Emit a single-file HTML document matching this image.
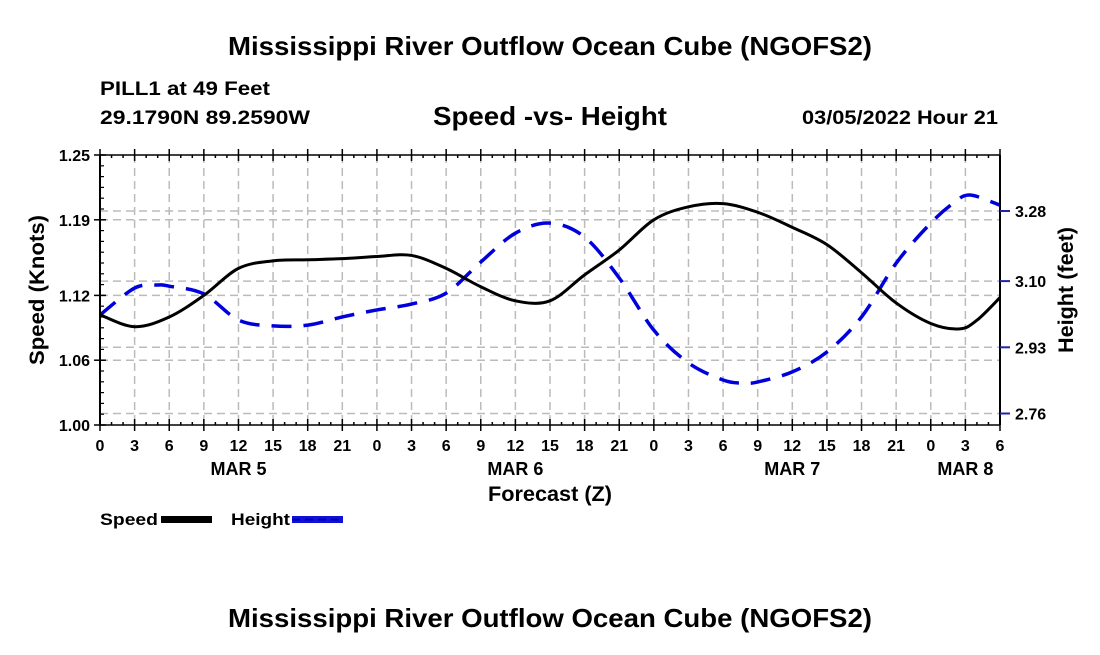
<!DOCTYPE html>
<html><head><meta charset="utf-8"><style>
html,body{margin:0;padding:0;background:#fff;}
svg text{font-family:"Liberation Sans",Arial,sans-serif;font-weight:bold;fill:#000;}
</style></head><body>
<svg id="chart" width="1100" height="650" viewBox="0 0 1100 650" xmlns="http://www.w3.org/2000/svg">
<rect width="1100" height="650" fill="#fff"/>
<text x="550" y="55" font-size="26" text-anchor="middle" textLength="644" lengthAdjust="spacingAndGlyphs">Mississippi River Outflow Ocean Cube (NGOFS2)</text>
<text x="100" y="95" font-size="19" textLength="170" lengthAdjust="spacingAndGlyphs">PILL1 at 49 Feet</text>
<text x="100" y="124" font-size="19" textLength="210" lengthAdjust="spacingAndGlyphs">29.1790N  89.2590W</text>
<text x="550" y="125" font-size="26" text-anchor="middle" textLength="234" lengthAdjust="spacingAndGlyphs">Speed -vs- Height</text>
<text x="998" y="124" font-size="19" text-anchor="end" textLength="196" lengthAdjust="spacingAndGlyphs">03/05/2022 Hour 21</text>
<g id="grid"></g>
<g id="series"></g>
<g id="axes"></g>
<text transform="translate(44,290) rotate(-90)" font-size="21" text-anchor="middle" textLength="150" lengthAdjust="spacingAndGlyphs">Speed (Knots)</text>
<text transform="translate(1073,290) rotate(-90)" font-size="21" text-anchor="middle" textLength="126" lengthAdjust="spacingAndGlyphs">Height (feet)</text>
<text x="550" y="501" font-size="21" text-anchor="middle" textLength="124" lengthAdjust="spacingAndGlyphs">Forecast (Z)</text>
<g>
<text x="100" y="525" font-size="17" textLength="58" lengthAdjust="spacingAndGlyphs">Speed</text>
<rect x="161" y="516" width="51" height="7" fill="#000"/>
</g>
<g>
<text x="231" y="525" font-size="17" textLength="59" lengthAdjust="spacingAndGlyphs">Height</text>
<rect x="292" y="516" width="51" height="7" fill="#1010dd"/>
<line x1="292" y1="519.5" x2="343" y2="519.5" stroke="#0000aa" stroke-width="2" stroke-dasharray="8,5"/>
</g>
<text x="550" y="627" font-size="26" text-anchor="middle" textLength="644" lengthAdjust="spacingAndGlyphs">Mississippi River Outflow Ocean Cube (NGOFS2)</text>
</svg>
<script>
const speedHours = [0,3,6,9,12,15,18,21,24,27,30,33,36,39,42,45,48,51,54,57,60,63,66,69,72,74.5,76,78];
const speedValues = [1.102,1.091,1.100,1.120,1.145,1.152,1.153,1.154,1.156,1.157,1.145,1.128,1.115,1.115,1.139,1.162,1.190,1.202,1.205,1.197,1.183,1.167,1.141,1.113,1.094,1.089,1.097,1.118];
const heightHours = [0,3,5,6,9,12,15,18,21,24,27,30,33,36,39,42,45,48,51,54,55.7,57,60,63,66,69,72,74,75.4,78];
const heightValues = [3.013,3.082,3.090,3.087,3.067,3.000,2.985,2.987,3.008,3.026,3.041,3.069,3.149,3.223,3.249,3.213,3.108,2.974,2.890,2.846,2.838,2.841,2.867,2.918,3.008,3.146,3.249,3.301,3.321,3.295];
const xTickLabels = ["0","3","6","9","12","15","18","21","0","3","6","9","12","15","18","21","0","3","6","9","12","15","18","21","0","3","6"];
const dayLabels = ["MAR 5","MAR 6","MAR 7","MAR 8"];
const dayLabelHours = [12,36,60,75];
const speedTicks = [1.00,1.06,1.12,1.19,1.25];
const heightTicks = [2.76,2.93,3.10,3.28];

const NS="http://www.w3.org/2000/svg";
const L=100,R=1000,T=155,B=425,HMAX=78;
const xS=h=>L+h*(R-L)/HMAX;
const yS=v=>B-(v-1.0)*(B-T)/0.25;
const yH=v=>413.5-(v-2.76)*389.4;
function mk(tag,attrs,parent){const e=document.createElementNS(NS,tag);for(const k in attrs)e.setAttribute(k,attrs[k]);parent.appendChild(e);return e;}
const grid=document.getElementById('grid'),axes=document.getElementById('axes'),series=document.getElementById('series');
const gstyle={stroke:"#bbb","stroke-width":1.5,"stroke-dasharray":"8,5",fill:"none"};
for(let i=1;i<xTickLabels.length-1;i++){const x=xS(i*3);const g=mk('line',Object.assign({x1:x,y1:T,x2:x,y2:B},gstyle),grid);

}
speedTicks.forEach(v=>{if(v>1.0&&v<1.25){const y=yS(v);const g=mk('line',Object.assign({x1:L,y1:y,x2:R,y2:y},gstyle),grid);

}});
heightTicks.forEach(v=>{const y=yH(v);const g=mk('line',Object.assign({x1:L,y1:y,x2:R,y2:y},gstyle),grid);

});
function smooth(pts){let d=`M${pts[0][0]},${pts[0][1]}`;for(let i=0;i<pts.length-1;i++){const p0=pts[Math.max(0,i-1)],p1=pts[i],p2=pts[i+1],p3=pts[Math.min(pts.length-1,i+2)];
const c1=[p1[0]+(p2[0]-p0[0])/6,p1[1]+(p2[1]-p0[1])/6],c2=[p2[0]-(p3[0]-p1[0])/6,p2[1]-(p3[1]-p1[1])/6];d+=` C${c1[0]},${c1[1]} ${c2[0]},${c2[1]} ${p2[0]},${p2[1]}`;}return d;}
const hp=mk('path',{d:smooth(heightHours.map((h,i)=>[xS(h),yH(heightValues[i])])),stroke:"#0000dd","stroke-width":3.5,fill:"none","stroke-dasharray":"20,12"},series);


const sp=mk('path',{d:smooth(speedHours.map((h,i)=>[xS(h),yS(speedValues[i])])),stroke:"#000","stroke-width":3,fill:"none"},series);


mk('line',{x1:L,y1:T,x2:L,y2:B,stroke:"#000","stroke-width":2},axes);
mk('line',{x1:R,y1:T,x2:R,y2:B,stroke:"#000","stroke-width":2},axes);
mk('line',{x1:L,y1:T,x2:R,y2:T,stroke:"#000","stroke-width":1.5},axes);
mk('line',{x1:L,y1:B,x2:R,y2:B,stroke:"#000","stroke-width":1.5},axes);
for(let h=0;h<=HMAX;h++){const x=xS(h);const big=h%3===0;
mk('line',{x1:x,y1:B-(big?6:3),x2:x,y2:B+(big?6:0),stroke:"#000","stroke-width":1.5},axes);
mk('line',{x1:x,y1:T-(big?6:0),x2:x,y2:T+(big?6:3),stroke:"#000","stroke-width":1.5},axes);}
xTickLabels.forEach((t,i)=>{const e=mk('text',{x:xS(i*3),y:451,"font-size":16,"text-anchor":"middle"},axes);e.textContent=t;

});
dayLabels.forEach((t,i)=>{const e=mk('text',{x:xS(dayLabelHours[i]),y:475,"font-size":18,"text-anchor":"middle"},axes);e.textContent=t;

});
for(let v=1.0;v<=1.2501;v+=0.01){const y=yS(v);mk('line',{x1:L,y1:y,x2:L+4,y2:y,stroke:"#000","stroke-width":1.2},axes);}
speedTicks.forEach(v=>{const y=yS(v);mk('line',{x1:L-6,y1:y,x2:L+6,y2:y,stroke:"#000","stroke-width":1.5},axes);
const e=mk('text',{x:L-10,y:y+6,"font-size":16,"text-anchor":"end"},axes);e.textContent=v.toFixed(2);

});
heightTicks.forEach(v=>{const y=yH(v);mk('line',{x1:R,y1:y,x2:R+10,y2:y,stroke:"#2222aa","stroke-width":2},axes);
const e=mk('text',{x:R+15,y:y+6,"font-size":16},axes);e.textContent=v.toFixed(2);

});
</script>
</body></html>
